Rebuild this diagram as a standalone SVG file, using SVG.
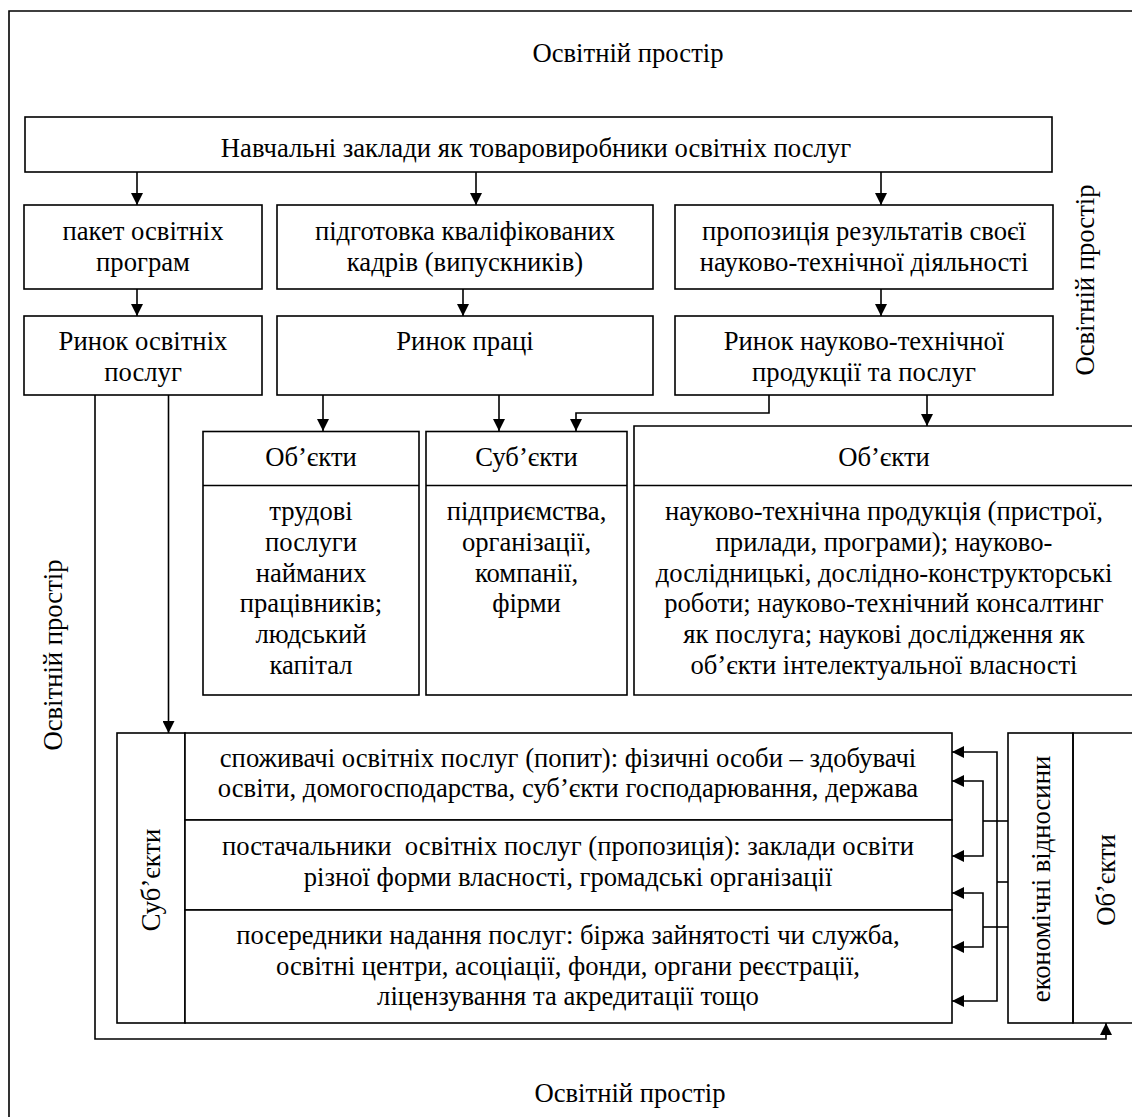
<svg xmlns="http://www.w3.org/2000/svg" width="1132" height="1117" viewBox="0 0 1132 1117">
<style>
text{font-family:'Liberation Serif','Times New Roman',serif;font-size:26.67px;fill:#000;text-anchor:middle}
.box{fill:#fff;stroke:#000;stroke-width:1.6}
.ln{fill:none;stroke:#000;stroke-width:1.6}
.ar{fill:none;stroke:#000;stroke-width:1.6;marker-end:url(#ah)}
</style>
<defs>
<marker id="ah" markerUnits="userSpaceOnUse" markerWidth="12" markerHeight="12" refX="12" refY="6" orient="auto" viewBox="0 0 12 12">
<path d="M0,0 L12,6 L0,12 Z" fill="#000"/>
</marker>
</defs>
<rect width="1132" height="1117" fill="#fff"/>
<g id="frame">
<path class="ln" d="M9,1117 V11 H1132" stroke-width="1.8"/>
<text x="628" y="62">Освітній простір</text>
<text x="630" y="1102">Освітній простір</text>
<text transform="translate(1094,280) rotate(-90)">Освітній простір</text>
<text transform="translate(62,655) rotate(-90)">Освітній простір</text>
</g>
<g id="connectors">
<path class="ar" d="M137,172 V205"/>
<path class="ar" d="M476,172 V205"/>
<path class="ar" d="M881,172 V205"/>
<path class="ar" d="M137,289 V316"/>
<path class="ar" d="M463,289 V316"/>
<path class="ar" d="M881,289 V316"/>
<path class="ar" d="M323,395 V431"/>
<path class="ar" d="M499,395 V431"/>
<path class="ar" d="M769,395 V413 H576 V431"/>
<path class="ar" d="M927,395 V426"/>
<path class="ar" d="M168.5,395 V733"/>
<path class="ar" d="M95,395 V1039 H1106 V1023"/>
<path class="ln" d="M1008,882 H997"/>
<path class="ar" d="M997,882 V752 H952"/>
<path class="ar" d="M997,882 V1001 H952"/>
<path class="ln" d="M1008,821 H983"/>
<path class="ar" d="M983,821 V781 H952"/>
<path class="ar" d="M983,821 V856 H952"/>
<path class="ln" d="M1008,927 H983"/>
<path class="ar" d="M983,927 V893 H952"/>
<path class="ar" d="M983,927 V947 H952"/>
</g>
<g id="n-top">
<rect class="box" x="25" y="117" width="1027" height="55"/>
<text x="536" y="157">Навчальні заклади як товаровиробники освітніх послуг</text>
</g>
<g id="n-paket">
<rect class="box" x="24" y="205" width="238" height="84"/>
<text x="143" y="240">пакет освітніх</text>
<text x="143" y="271">програм</text>
</g>
<g id="n-pidhotovka">
<rect class="box" x="277" y="205" width="376" height="84"/>
<text x="465" y="240">підготовка кваліфікованих</text>
<text x="465" y="271">кадрів (випускників)</text>
</g>
<g id="n-propozytsiia">
<rect class="box" x="675" y="205" width="378" height="84"/>
<text x="864" y="240">пропозиція результатів своєї</text>
<text x="864" y="271">науково-технічної діяльності</text>
</g>
<g id="n-rynok-osv">
<rect class="box" x="24" y="316" width="238" height="79"/>
<text x="143" y="350">Ринок освітніх</text>
<text x="143" y="381">послуг</text>
</g>
<g id="n-rynok-pratsi">
<rect class="box" x="277" y="316" width="376" height="79"/>
<text x="465" y="350">Ринок праці</text>
</g>
<g id="n-rynok-nt">
<rect class="box" x="675" y="316" width="378" height="79"/>
<text x="864" y="350">Ринок науково-технічної</text>
<text x="864" y="381">продукції та послуг</text>
</g>
<g id="n-obiekty-pratsi">
<rect class="box" x="203" y="431.5" width="216" height="263.5"/>
<path class="ln" d="M203,485.5 H419"/>
<text x="311" y="466">Об’єкти</text>
<text x="311" y="520">трудові</text>
<text x="311" y="551">послуги</text>
<text x="311" y="582">найманих</text>
<text x="311" y="612">працівників;</text>
<text x="311" y="643">людський</text>
<text x="311" y="674">капітал</text>
</g>
<g id="n-subiekty-pratsi">
<rect class="box" x="426" y="431.5" width="201" height="263.5"/>
<path class="ln" d="M426,485.5 H627"/>
<text x="526.5" y="466">Суб’єкти</text>
<text x="526.5" y="520">підприємства,</text>
<text x="526.5" y="551">організації,</text>
<text x="526.5" y="582">компанії,</text>
<text x="526.5" y="612">фірми</text>
</g>
<g id="n-obiekty-nt">
<path class="ln" d="M1132,426 H634 V695 H1132"/>
<path class="ln" d="M634,485.5 H1132"/>
<text x="884" y="466">Об’єкти</text>
<text x="884" y="520">науково-технічна продукція (пристрої,</text>
<text x="884" y="551">прилади, програми); науково-</text>
<text x="884" y="582">дослідницькі, дослідно-конструкторські</text>
<text x="884" y="612">роботи; науково-технічний консалтинг</text>
<text x="884" y="643">як послуга; наукові дослідження як</text>
<text x="884" y="674">об’єкти інтелектуальної власності</text>
</g>
<g id="n-subiekty-osv">
<rect class="box" x="117" y="733" width="68" height="290"/>
<text transform="translate(160,880) rotate(-90)">Суб’єкти</text>
</g>
<g id="n-spozhyvachi">
<rect class="box" x="185" y="733" width="767" height="87"/>
<text x="568" y="767">споживачі освітніх послуг (попит): фізичні особи – здобувачі</text>
<text x="568" y="797">освіти, домогосподарства, суб’єкти господарювання, держава</text>
</g>
<g id="n-postachalnyky">
<rect class="box" x="185" y="820" width="767" height="90"/>
<text x="568" y="855" xml:space="preserve">постачальники  освітніх послуг (пропозиція): заклади освіти</text>
<text x="568" y="886">різної форми власності, громадські організації</text>
</g>
<g id="n-poserednyky">
<rect class="box" x="185" y="910" width="767" height="113"/>
<text x="568" y="944">посередники надання послуг: біржа зайнятості чи служба,</text>
<text x="568" y="975">освітні центри, асоціації, фонди, органи реєстрації,</text>
<text x="568" y="1005">ліцензування та акредитації тощо</text>
</g>
<g id="n-ekonomichni">
<rect class="box" x="1008" y="733" width="65" height="290"/>
<text transform="translate(1050,879) rotate(-90)">економічні відносини</text>
</g>
<g id="n-obiekty-osv">
<path class="ln" d="M1132,733 H1073 V1023 H1132"/>
<text transform="translate(1115,880) rotate(-90)">Об’єкти</text>
</g>
</svg>
